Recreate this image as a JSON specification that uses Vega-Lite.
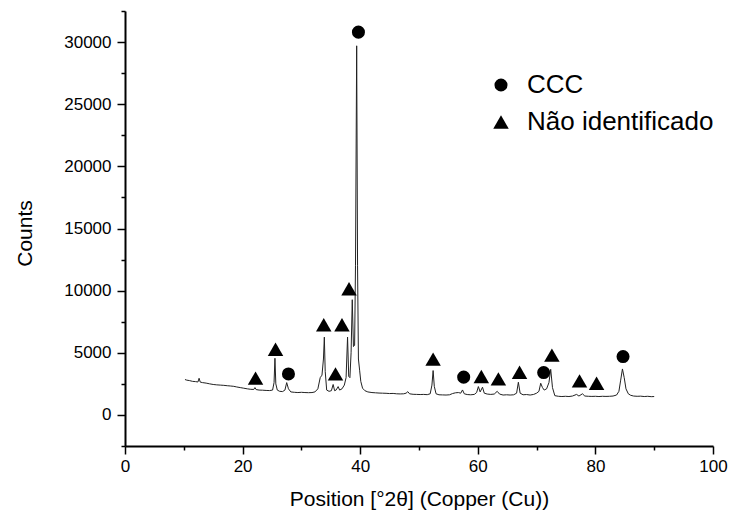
{
  "$schema": "https://vega.github.io/schema/vega-lite/v6.json",
  "width": 588,
  "height": 435,
  "autosize": {"type": "none"},
  "padding": {"left": 125, "top": 11, "right": 16, "bottom": 70},
  "background": "white",
  "config": {
    "font": "Liberation Sans",
    "view": {"stroke": null},
    "axis": {
      "grid": false,
      "domainColor": "black",
      "domainWidth": 2,
      "tickColor": "black",
      "tickWidth": 1.5,
      "labelColor": "black",
      "titleColor": "black",
      "labelFontSize": 17,
      "titleFontSize": 21,
      "titleFontWeight": "normal",
      "labelFlush": false,
      "labelOverlap": false
    }
  },
  "resolve": {"axis": {"x": "independent", "y": "independent"}},
  "datasets": {
    "trace": [
      {"theta": 10.2, "counts": 2850}, {"theta": 10.5, "counts": 2800}, {"theta": 11, "counts": 2760},
      {"theta": 11.5, "counts": 2700}, {"theta": 12, "counts": 2680}, {"theta": 12.4, "counts": 2650},
      {"theta": 12.6, "counts": 2950}, {"theta": 12.8, "counts": 2640}, {"theta": 13.2, "counts": 2600},
      {"theta": 13.8, "counts": 2560}, {"theta": 14.4, "counts": 2500}, {"theta": 15, "counts": 2450},
      {"theta": 15.6, "counts": 2420}, {"theta": 16.2, "counts": 2400}, {"theta": 16.8, "counts": 2380},
      {"theta": 17.4, "counts": 2350}, {"theta": 17.9, "counts": 2330}, {"theta": 18.5, "counts": 2300},
      {"theta": 19, "counts": 2250}, {"theta": 19.6, "counts": 2200}, {"theta": 20.2, "counts": 2150},
      {"theta": 20.8, "counts": 2100}, {"theta": 21.4, "counts": 2060}, {"theta": 21.9, "counts": 2050},
      {"theta": 22.1, "counts": 2200}, {"theta": 22.3, "counts": 2040}, {"theta": 22.8, "counts": 2000},
      {"theta": 23.4, "counts": 1990}, {"theta": 24, "counts": 1970}, {"theta": 24.6, "counts": 1960},
      {"theta": 25.1, "counts": 2000}, {"theta": 25.35, "counts": 2600}, {"theta": 25.5, "counts": 4560},
      {"theta": 25.65, "counts": 2500}, {"theta": 25.9, "counts": 2000}, {"theta": 26.3, "counts": 1900},
      {"theta": 26.8, "counts": 1880}, {"theta": 27.2, "counts": 2000}, {"theta": 27.5, "counts": 2600},
      {"theta": 27.8, "counts": 2100}, {"theta": 28.2, "counts": 1850}, {"theta": 28.8, "counts": 1820},
      {"theta": 29.4, "counts": 1800}, {"theta": 30, "counts": 1820}, {"theta": 30.6, "counts": 1800},
      {"theta": 31.2, "counts": 1790}, {"theta": 31.8, "counts": 1800}, {"theta": 32.3, "counts": 1850},
      {"theta": 32.8, "counts": 2100}, {"theta": 33.2, "counts": 3000}, {"theta": 33.5, "counts": 3200},
      {"theta": 33.75, "counts": 4500}, {"theta": 33.9, "counts": 6260}, {"theta": 34.05, "counts": 3500},
      {"theta": 34.3, "counts": 2000}, {"theta": 34.7, "counts": 1900}, {"theta": 35.1, "counts": 1950},
      {"theta": 35.4, "counts": 2450}, {"theta": 35.65, "counts": 1950}, {"theta": 35.9, "counts": 2000},
      {"theta": 36.25, "counts": 2280}, {"theta": 36.5, "counts": 2000}, {"theta": 36.9, "counts": 2100},
      {"theta": 37.3, "counts": 2400}, {"theta": 37.6, "counts": 3000}, {"theta": 37.85, "counts": 6260},
      {"theta": 38.05, "counts": 3100}, {"theta": 38.25, "counts": 3000}, {"theta": 38.45, "counts": 5000},
      {"theta": 38.65, "counts": 9270}, {"theta": 38.85, "counts": 5500}, {"theta": 39.05, "counts": 5600},
      {"theta": 39.2, "counts": 12000}, {"theta": 39.4, "counts": 29700}, {"theta": 39.55, "counts": 12000},
      {"theta": 39.7, "counts": 4500}, {"theta": 39.9, "counts": 3600}, {"theta": 40.1, "counts": 2700},
      {"theta": 40.4, "counts": 2150}, {"theta": 40.8, "counts": 1950}, {"theta": 41.3, "counts": 1850},
      {"theta": 42, "counts": 1800}, {"theta": 42.6, "counts": 1780}, {"theta": 43.2, "counts": 1760},
      {"theta": 43.8, "counts": 1750}, {"theta": 44.4, "counts": 1740}, {"theta": 45, "counts": 1720},
      {"theta": 45.6, "counts": 1730}, {"theta": 46.2, "counts": 1700}, {"theta": 46.8, "counts": 1690},
      {"theta": 47.4, "counts": 1700}, {"theta": 47.8, "counts": 1750}, {"theta": 48.1, "counts": 1870},
      {"theta": 48.4, "counts": 1700}, {"theta": 49, "counts": 1660}, {"theta": 49.6, "counts": 1650},
      {"theta": 50.2, "counts": 1640}, {"theta": 50.8, "counts": 1650}, {"theta": 51.4, "counts": 1630},
      {"theta": 51.9, "counts": 1700}, {"theta": 52.2, "counts": 2400}, {"theta": 52.4, "counts": 3570},
      {"theta": 52.6, "counts": 2300}, {"theta": 52.9, "counts": 1700}, {"theta": 53.4, "counts": 1620},
      {"theta": 54, "counts": 1610}, {"theta": 54.6, "counts": 1600}, {"theta": 55.2, "counts": 1620},
      {"theta": 55.7, "counts": 1720}, {"theta": 56.2, "counts": 1780}, {"theta": 56.7, "counts": 1800},
      {"theta": 57.1, "counts": 1750}, {"theta": 57.4, "counts": 2010}, {"theta": 57.7, "counts": 1700},
      {"theta": 58.2, "counts": 1640}, {"theta": 58.8, "counts": 1620}, {"theta": 59.4, "counts": 1650},
      {"theta": 59.8, "counts": 1800}, {"theta": 60.1, "counts": 2280}, {"theta": 60.4, "counts": 1850},
      {"theta": 60.8, "counts": 2230}, {"theta": 61.1, "counts": 1750}, {"theta": 61.6, "counts": 1680},
      {"theta": 62.2, "counts": 1650}, {"theta": 62.8, "counts": 1680}, {"theta": 63.3, "counts": 1900},
      {"theta": 63.7, "counts": 1680}, {"theta": 64.3, "counts": 1600}, {"theta": 64.9, "counts": 1620},
      {"theta": 65.5, "counts": 1600}, {"theta": 66.1, "counts": 1620}, {"theta": 66.6, "counts": 1750},
      {"theta": 66.9, "counts": 2630}, {"theta": 67.2, "counts": 1750}, {"theta": 67.7, "counts": 1620},
      {"theta": 68.3, "counts": 1640}, {"theta": 68.9, "counts": 1600}, {"theta": 69.5, "counts": 1650},
      {"theta": 70, "counts": 1750}, {"theta": 70.4, "counts": 1900}, {"theta": 70.7, "counts": 2550},
      {"theta": 71.0, "counts": 2200}, {"theta": 71.3, "counts": 2000}, {"theta": 71.7, "counts": 2100},
      {"theta": 72.1, "counts": 2600}, {"theta": 72.4, "counts": 3670}, {"theta": 72.7, "counts": 2200},
      {"theta": 73.1, "counts": 1550}, {"theta": 73.7, "counts": 1500}, {"theta": 74.3, "counts": 1480},
      {"theta": 74.9, "counts": 1500}, {"theta": 75.5, "counts": 1480}, {"theta": 76.1, "counts": 1520},
      {"theta": 76.8, "counts": 1650}, {"theta": 77.2, "counts": 1520}, {"theta": 77.8, "counts": 1700},
      {"theta": 78.2, "counts": 1520}, {"theta": 78.8, "counts": 1500}, {"theta": 79.4, "counts": 1490},
      {"theta": 80, "counts": 1500}, {"theta": 80.6, "counts": 1480}, {"theta": 81.2, "counts": 1500},
      {"theta": 81.8, "counts": 1490}, {"theta": 82.4, "counts": 1500}, {"theta": 83, "counts": 1520},
      {"theta": 83.6, "counts": 1600}, {"theta": 84, "counts": 1900}, {"theta": 84.3, "counts": 2800},
      {"theta": 84.6, "counts": 3700}, {"theta": 84.9, "counts": 3000}, {"theta": 85.2, "counts": 2100},
      {"theta": 85.6, "counts": 1700}, {"theta": 86, "counts": 1580}, {"theta": 86.5, "counts": 1520},
      {"theta": 87.1, "counts": 1500}, {"theta": 87.7, "counts": 1510}, {"theta": 88.3, "counts": 1480},
      {"theta": 88.9, "counts": 1500}, {"theta": 89.5, "counts": 1470}, {"theta": 90, "counts": 1480}
    ],
    "markers": [
      {"theta": 39.7, "counts": 30800, "phase": "CCC"},
      {"theta": 22.2, "counts": 2960, "phase": "Não identificado"},
      {"theta": 25.6, "counts": 5290, "phase": "Não identificado"},
      {"theta": 27.8, "counts": 3300, "phase": "CCC"},
      {"theta": 33.8, "counts": 7250, "phase": "Não identificado"},
      {"theta": 35.8, "counts": 3300, "phase": "Não identificado"},
      {"theta": 36.9, "counts": 7250, "phase": "Não identificado"},
      {"theta": 38.1, "counts": 10150, "phase": "Não identificado"},
      {"theta": 52.4, "counts": 4490, "phase": "Não identificado"},
      {"theta": 57.6, "counts": 3040, "phase": "CCC"},
      {"theta": 60.6, "counts": 3090, "phase": "Não identificado"},
      {"theta": 63.5, "counts": 2900, "phase": "Não identificado"},
      {"theta": 67.1, "counts": 3440, "phase": "Não identificado"},
      {"theta": 71.2, "counts": 3410, "phase": "CCC"},
      {"theta": 72.6, "counts": 4810, "phase": "Não identificado"},
      {"theta": 77.3, "counts": 2740, "phase": "Não identificado"},
      {"theta": 80.2, "counts": 2550, "phase": "Não identificado"},
      {"theta": 84.7, "counts": 4700, "phase": "CCC"}
    ]
  },
  "layer": [
    {
      "data": {"name": "trace"},
      "mark": {"type": "line", "color": "#222222", "strokeWidth": 1},
      "encoding": {
        "x": {
          "field": "theta",
          "type": "quantitative",
          "scale": {"domain": [0, 100], "nice": false, "zero": false},
          "axis": {
            "orient": "bottom",
            "title": "Position [°2θ] (Copper (Cu))",
            "values": [0, 20, 40, 60, 80, 100],
            "tickSize": 8,
            "labelPadding": 4,
            "titleY": 59,
            "titleBaseline": "alphabetic"
          }
        },
        "y": {
          "field": "counts",
          "type": "quantitative",
          "scale": {"domain": [-2500, 32500], "nice": false, "zero": false},
          "axis": {
            "orient": "left",
            "title": "Counts",
            "format": "d",
            "values": [0, 5000, 10000, 15000, 20000, 25000, 30000],
            "tickSize": 8,
            "labelPadding": 6,
            "titleX": -94,
            "titleY": 222,
            "titleBaseline": "alphabetic"
          }
        }
      }
    },
    {
      "data": {"name": "markers"},
      "mark": {"type": "point", "filled": true, "color": "black", "opacity": 1},
      "encoding": {
        "x": {
          "field": "theta",
          "type": "quantitative",
          "axis": {
            "orient": "bottom",
            "title": null,
            "labels": false,
            "domain": false,
            "tickSize": 4,
            "values": [10, 30, 50, 70, 90]
          }
        },
        "y": {
          "field": "counts",
          "type": "quantitative",
          "axis": {
            "orient": "left",
            "title": null,
            "labels": false,
            "domain": false,
            "tickSize": 4,
            "values": [-2500, 2500, 7500, 12500, 17500, 22500, 27500, 32500]
          }
        },
        "shape": {
          "field": "phase",
          "type": "nominal",
          "scale": {"domain": ["CCC", "Não identificado"], "range": ["circle", "triangle-up"]},
          "legend": {
            "orient": "none",
            "legendX": 363,
            "legendY": 61,
            "title": null,
            "labelFontSize": 26,
            "labelColor": "black",
            "labelLimit": 400,
            "labelOffset": 13,
            "rowPadding": 11
          }
        },
        "size": {
          "field": "phase",
          "type": "nominal",
          "scale": {"domain": ["CCC", "Não identificado"], "range": [170, 240]},
          "legend": {
            "orient": "none",
            "legendX": 363,
            "legendY": 61,
            "title": null,
            "labelFontSize": 26,
            "labelColor": "black",
            "labelLimit": 400,
            "labelOffset": 13,
            "rowPadding": 11
          }
        }
      }
    }
  ]
}
